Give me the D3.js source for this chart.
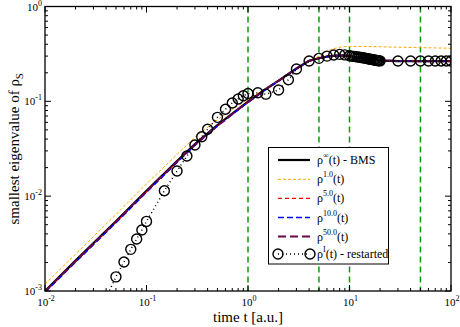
<!DOCTYPE html>
<html>
<head>
<meta charset="utf-8">
<script src="https://cdn.jsdelivr.net/npm/d3@7"></script>
<style>
  body { margin: 0; background: #fff; }
  text { font-family: "Liberation Serif", "Times New Roman", serif; fill: #000; }
</style>
</head>
<body>
<script>
// BMS reference curve
var tBms = [0.01, 0.02, 0.05, 0.1, 0.2, 0.3, 0.5, 0.7, 1, 1.5, 2, 3, 4, 5, 6, 7, 8, 9, 10, 12, 15, 20, 30, 50, 100];
var yBms = [0.001, 0.00209, 0.00545, 0.0114, 0.0235, 0.0355, 0.056, 0.074, 0.099, 0.135, 0.165, 0.222, 0.268, 0.285, 0.296, 0.302, 0.305, 0.304, 0.300, 0.290, 0.278, 0.270, 0.266, 0.265, 0.265];

// rho^1.0
var t10 = [0.01, 0.02, 0.05, 0.1, 0.2, 0.3, 0.5, 0.7, 1, 1.5, 2, 3, 4, 5, 5.5, 6, 7, 8, 9, 10, 15, 20, 50, 100];
var y10 = [0.00118, 0.00245, 0.0064, 0.0135, 0.0275, 0.042, 0.064, 0.082, 0.105, 0.137, 0.165, 0.22, 0.265, 0.30, 0.32, 0.338, 0.36, 0.372, 0.378, 0.38, 0.378, 0.376, 0.368, 0.363];

// rho^5.0
var t50 = [0.01, 0.02, 0.05, 0.1, 0.2, 0.3, 0.5, 0.7, 1, 1.5, 2, 3, 4, 5, 6, 7, 8, 10, 15, 20, 30, 50, 100];
var y50 = [0.00098, 0.00204, 0.0053, 0.0111, 0.0229, 0.0347, 0.0551, 0.073, 0.098, 0.134, 0.164, 0.221, 0.267, 0.286, 0.297, 0.303, 0.305, 0.300, 0.279, 0.270, 0.266, 0.265, 0.265];

// rho^10.0
var t100 = [0.01, 0.02, 0.05, 0.1, 0.2, 0.3, 0.5, 0.7, 1, 1.5, 2, 3, 4, 5, 6, 7, 8, 10, 15, 20, 30, 50, 100];
var y100 = [0.00097, 0.00202, 0.00525, 0.0110, 0.0227, 0.0344, 0.0548, 0.0727, 0.0975, 0.1335, 0.1635, 0.2205, 0.2665, 0.2855, 0.2965, 0.3025, 0.3045, 0.2995, 0.2785, 0.2695, 0.2655, 0.2648, 0.2648];

// rho^50.0
var t500 = [0.01, 0.02, 0.05, 0.1, 0.2, 0.3, 0.5, 0.7, 1, 1.5, 2, 3, 4, 5, 6, 7, 8, 10, 15, 20, 30, 50, 100];
var y500 = [0.00099, 0.00206, 0.0054, 0.0113, 0.0232, 0.0351, 0.0555, 0.0735, 0.0985, 0.1345, 0.1645, 0.2215, 0.2675, 0.285, 0.296, 0.302, 0.305, 0.300, 0.278, 0.270, 0.266, 0.265, 0.265];

// restarted run (circles)
var tRes = [0.04, 0.05, 0.06, 0.07, 0.08, 0.09, 0.1, 0.15, 0.2, 0.25, 0.3, 0.35, 0.4, 0.5, 0.6, 0.7, 0.8, 0.9, 1,
  1.25, 1.5, 2, 2.5, 3, 4, 5, 6, 7, 8, 9,
  10, 10.5, 11, 11.5, 12, 12.5, 13, 13.5, 14, 14.5, 15, 15.5, 16, 16.5, 17, 17.5, 18, 18.5, 19, 19.5, 20,
  30, 40, 50, 60, 70, 80, 90, 100];
var yRes = [0.00085, 0.00141, 0.00202, 0.00275, 0.00353, 0.0044, 0.00542, 0.0114, 0.0184, 0.0265, 0.0346, 0.0423, 0.0507, 0.0678, 0.0824, 0.096, 0.106, 0.1146, 0.121,
  0.123, 0.119, 0.1316, 0.169, 0.219, 0.266, 0.284, 0.300, 0.308, 0.313, 0.309,
  0.302, 0.300, 0.298, 0.296, 0.294, 0.292, 0.290, 0.288, 0.286, 0.284, 0.282, 0.280, 0.278, 0.277, 0.275, 0.273, 0.272, 0.270, 0.269, 0.268, 0.267,
  0.266, 0.266, 0.266, 0.266, 0.266, 0.266, 0.266, 0.266];

// vertical markers
var tMarks = [1, 5, 10, 50];

var series = [
  { name: 'bms', sup: '\u221e', tail: '(t) - BMS', t: tBms, y: yBms, color: '#000', width: 2.2, dash: null },
  { name: 'r1', sup: '1.0', tail: '(t)', t: t10, y: y10, color: '#ffa500', width: 1, dash: '3,2' },
  { name: 'r5', sup: '5.0', tail: '(t)', t: t50, y: y50, color: '#ff0000', width: 1.2, dash: '4,3' },
  { name: 'r10', sup: '10.0', tail: '(t)', t: t100, y: y100, color: '#0000ff', width: 1.6, dash: '6,3' },
  { name: 'r50', sup: '50.0', tail: '(t)', t: t500, y: y500, color: '#670748', width: 2, dash: '8,4' }
];

var W = 460, H = 327;
var pLeft = 45, pRight = 451, pTop = 6.5, pBottom = 291;

var svg = d3.select('body').append('svg')
  .attr('width', W).attr('height', H);

var x = d3.scaleLog().domain([0.01, 100]).range([pLeft, pRight]);
var y = d3.scaleLog().domain([0.001, 1]).range([pBottom, pTop]);

svg.append('clipPath').attr('id', 'clip')
  .append('rect')
  .attr('x', pLeft).attr('y', pTop)
  .attr('width', pRight - pLeft).attr('height', pBottom - pTop);

var plot = svg.append('g').attr('clip-path', 'url(#clip)');

// green dashed verticals
plot.selectAll('line.mark')
  .data(tMarks)
  .enter().append('line')
  .attr('class', 'mark')
  .attr('x1', function(d) { return x(d); })
  .attr('x2', function(d) { return x(d); })
  .attr('y1', pTop).attr('y2', pBottom)
  .attr('stroke', '#0a9a0a')
  .attr('stroke-width', 1.5)
  .attr('stroke-dasharray', '6,4');

var line = d3.line()
  .x(function(d) { return x(d[0]); })
  .y(function(d) { return y(d[1]); });

series.forEach(function(s) {
  plot.append('path')
    .datum(d3.zip(s.t, s.y))
    .attr('d', line)
    .attr('fill', 'none')
    .attr('stroke', s.color)
    .attr('stroke-width', s.width)
    .attr('stroke-dasharray', s.dash);
});

// restarted: dotted line and circles
var resData = d3.zip(tRes, yRes);
plot.append('path')
  .datum(resData)
  .attr('d', line)
  .attr('fill', 'none')
  .attr('stroke', '#000')
  .attr('stroke-width', 1.5)
  .attr('stroke-dasharray', '1,3');

plot.selectAll('circle.res')
  .data(resData)
  .enter().append('circle')
  .attr('class', 'res')
  .attr('cx', function(d) { return x(d[0]); })
  .attr('cy', function(d) { return y(d[1]); })
  .attr('r', 5)
  .attr('fill', 'none')
  .attr('stroke', '#000')
  .attr('stroke-width', 1.4);

// frame
svg.append('rect')
  .attr('x', pLeft).attr('y', pTop)
  .attr('width', pRight - pLeft).attr('height', pBottom - pTop)
  .attr('fill', 'none').attr('stroke', '#000').attr('stroke-width', 1.3);

// ticks, all inward and mirrored
function isMajor(v) {
  var l = Math.log10(v);
  return Math.abs(l - Math.round(l)) < 1e-6;
}
var ticks = svg.append('g').attr('stroke', '#000').attr('stroke-width', 1);
x.ticks().forEach(function(v) {
  var len = isMajor(v) ? 6 : 3, px = x(v);
  ticks.append('line').attr('x1', px).attr('x2', px).attr('y1', pBottom).attr('y2', pBottom - len);
  ticks.append('line').attr('x1', px).attr('x2', px).attr('y1', pTop).attr('y2', pTop + len);
});
y.ticks().forEach(function(v) {
  var len = isMajor(v) ? 6 : 3, py = y(v);
  ticks.append('line').attr('x1', pLeft).attr('x2', pLeft + len).attr('y1', py).attr('y2', py);
  ticks.append('line').attr('x1', pRight).attr('x2', pRight - len).attr('y1', py).attr('y2', py);
});

// tick labels like 10^-2
function powLabel(g, v, px, py, anchor) {
  var e = Math.round(Math.log10(v));
  var t = g.append('text').attr('x', px).attr('y', py)
    .attr('text-anchor', anchor).style('font-size', '11px');
  t.append('tspan').text('10');
  t.append('tspan').attr('dy', -5).style('font-size', '8px').text(e);
}
var labels = svg.append('g');
x.ticks().filter(isMajor).forEach(function(v) {
  powLabel(labels, v, x(v) + 1, 306, 'middle');
});
y.ticks().filter(isMajor).forEach(function(v) {
  powLabel(labels, v, pLeft - 3, y(v) + 4, 'end');
});

// axis titles
svg.append('text')
  .attr('x', (pLeft + pRight) / 2).attr('y', 322)
  .attr('text-anchor', 'middle').style('font-size', '15px')
  .text('time t [a.u.]');

var yl = svg.append('text')
  .attr('transform', 'translate(19,' + ((pTop + pBottom) / 2) + ') rotate(-90)')
  .attr('text-anchor', 'middle').style('font-size', '15px');
yl.append('tspan').text('smallest eigenvalue of \u03c1');
yl.append('tspan').attr('dy', 4).style('font-size', '11px').text('S');

// legend
var lg = svg.append('g');
lg.append('rect')
  .attr('x', 268.5).attr('y', 147.5).attr('width', 120).attr('height', 116.5)
  .attr('fill', '#fff').attr('stroke', '#000').attr('stroke-width', 1);

var rowY = [160, 179.3, 198.3, 217.5, 236.5, 254];
series.forEach(function(s, i) {
  lg.append('line')
    .attr('x1', 278).attr('x2', 310).attr('y1', rowY[i]).attr('y2', rowY[i])
    .attr('stroke', s.color).attr('stroke-width', s.width)
    .attr('stroke-dasharray', s.dash);
  var t = lg.append('text').attr('x', 317).attr('y', rowY[i] + 4).style('font-size', '12px');
  t.append('tspan').text('\u03c1');
  t.append('tspan').attr('dy', -6).style('font-size', '8px').text(s.sup);
  t.append('tspan').attr('dy', 6).text(s.tail);
});

var ry = rowY[5];
lg.append('line')
  .attr('x1', 278).attr('x2', 310).attr('y1', ry).attr('y2', ry)
  .attr('stroke', '#000').attr('stroke-width', 1.5).attr('stroke-dasharray', '1,3');
[278, 310].forEach(function(cx) {
  lg.append('circle').attr('cx', cx).attr('cy', ry).attr('r', 5)
    .attr('fill', 'none').attr('stroke', '#000').attr('stroke-width', 1.4);
});
var rt = lg.append('text').attr('x', 317).attr('y', ry + 4).style('font-size', '12px');
rt.append('tspan').text('\u03c1');
rt.append('tspan').attr('dy', -6).style('font-size', '8px').text('I');
rt.append('tspan').attr('dy', 6).text('(t) - restarted');
</script>
</body>
</html>
